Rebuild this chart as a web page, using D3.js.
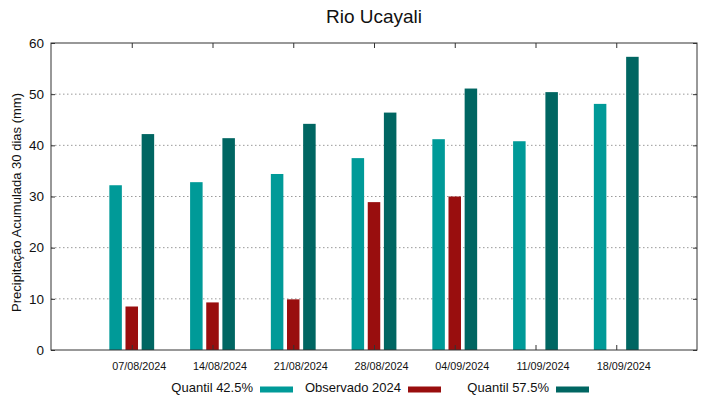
<!DOCTYPE html>
<html lang="pt">
<head>
  <meta charset="UTF-8" />
  <title>Rio Ucayali</title>
  <script src="https://cdn.jsdelivr.net/npm/d3@7"></script>
  <style>
    body { margin: 0; background: #fff; }
    svg text { font-family: "Liberation Sans", Arial, sans-serif; fill: #111; }
  </style>
</head>
<body>
  <div id="chart"></div>
  <script type="text/javascript">
    // Chart data
    var dates = ["07/08/2024", "14/08/2024", "21/08/2024", "28/08/2024", "04/09/2024", "11/09/2024", "18/09/2024"];
    var quantil425 = [32.2, 32.8, 34.4, 37.5, 41.2, 40.8, 48.1];
    var observado2024 = [8.5, 9.3, 9.9, 28.9, 30.0, null, null];
    var quantil575 = [42.2, 41.4, 44.2, 46.4, 51.1, 50.4, 57.3];
    var yTicks = [0, 10, 20, 30, 40, 50, 60];

    var series = [
      { name: "Quantil 42.5%", values: quantil425, color: "#009a98", offset: -0.2 },
      { name: "Observado 2024", values: observado2024, color: "#990e0e", offset: 0 },
      { name: "Quantil 57.5%", values: quantil575, color: "#006662", offset: 0.2 }
    ];

    var W = 719, H = 399;
    var margin = { left: 51, right: 22, top: 43, bottom: 49 };
    var pw = W - margin.left - margin.right;
    var ph = H - margin.top - margin.bottom;

    var svg = d3.select("#chart").append("svg")
      .attr("width", W).attr("height", H);

    var g = svg.append("g").attr("transform", "translate(" + margin.left + "," + margin.top + ")");

    // x is a linear index scale with one empty slot either side
    var x = d3.scaleLinear().domain([-1, dates.length]).range([0, pw]);
    var y = d3.scaleLinear().domain([0, 60]).range([ph, 0]);
    var barW = x(0.155) - x(0);

    // dotted grid lines
    g.append("g").selectAll("line")
      .data(yTicks.filter(function(d) { return d > 0 && d < 60; }))
      .enter().append("line")
      .attr("x1", 0).attr("x2", pw)
      .attr("y1", function(d) { return y(d); }).attr("y2", function(d) { return y(d); })
      .attr("stroke", "#9a9a9a").attr("stroke-width", 1)
      .attr("stroke-dasharray", "1.5,2.5");

    // bars
    series.forEach(function(s) {
      g.append("g").selectAll("rect")
        .data(s.values.map(function(v, i) { return { i: i, v: v }; }).filter(function(d) { return d.v != null; }))
        .enter().append("rect")
        .attr("x", function(d) { return x(d.i + s.offset) - barW / 2; })
        .attr("y", function(d) { return y(d.v); })
        .attr("width", barW)
        .attr("height", function(d) { return y(0) - y(d.v); })
        .attr("fill", s.color);
    });

    // axes: ticks point inward, mirrored on top and right
    var idx = d3.range(dates.length);
    var xBottom = g.append("g").attr("transform", "translate(0," + ph + ")")
      .call(d3.axisBottom(x).tickValues(idx).tickSize(-5).tickPadding(12)
        .tickFormat(function(i) { return dates[i]; }));
    var xTop = g.append("g")
      .call(d3.axisTop(x).tickValues(idx).tickSize(-5).tickFormat(""));
    var yLeft = g.append("g")
      .call(d3.axisLeft(y).tickValues(yTicks).tickSize(-4).tickPadding(7));
    var yRight = g.append("g").attr("transform", "translate(" + pw + ",0)")
      .call(d3.axisRight(y).tickValues(yTicks).tickSize(-4).tickFormat(""));

    [xBottom, xTop, yLeft, yRight].forEach(function(a) {
      a.select(".domain").remove();
      a.selectAll("line").attr("stroke", "#333");
    });
    // date labels sit a little right of their ticks in the original
    xBottom.selectAll("text").attr("font-size", 10.8).attr("dx", 7)
      .style("font-family", "Liberation Sans, Arial, sans-serif");
    yLeft.selectAll("text").attr("font-size", 13.5).style("font-family", "Liberation Sans, Arial, sans-serif");

    // frame
    g.append("rect").attr("width", pw).attr("height", ph)
      .attr("fill", "none").attr("stroke", "#333").attr("stroke-width", 1);

    // title
    svg.append("text").attr("x", 374).attr("y", 23)
      .attr("text-anchor", "middle").attr("font-size", 19).text("Rio Ucayali");

    // y label
    svg.append("text")
      .attr("transform", "translate(21," + (margin.top + ph / 2 + 6) + ") rotate(-90)")
      .attr("text-anchor", "middle").attr("font-size", 13)
      .text("Precipitação Acumulada 30 dias (mm)");

    // legend: text right aligned next to a swatch
    var legendSwatchX = [260, 408, 556];
    var legend = svg.append("g");
    series.forEach(function(s, k) {
      legend.append("text")
        .attr("x", legendSwatchX[k] - 7).attr("y", 392)
        .attr("text-anchor", "end").attr("font-size", 13).text(s.name);
      legend.append("rect")
        .attr("x", legendSwatchX[k]).attr("y", 386.5)
        .attr("width", 33).attr("height", 6)
        .attr("fill", s.color);
    });
  </script>
</body>
</html>
